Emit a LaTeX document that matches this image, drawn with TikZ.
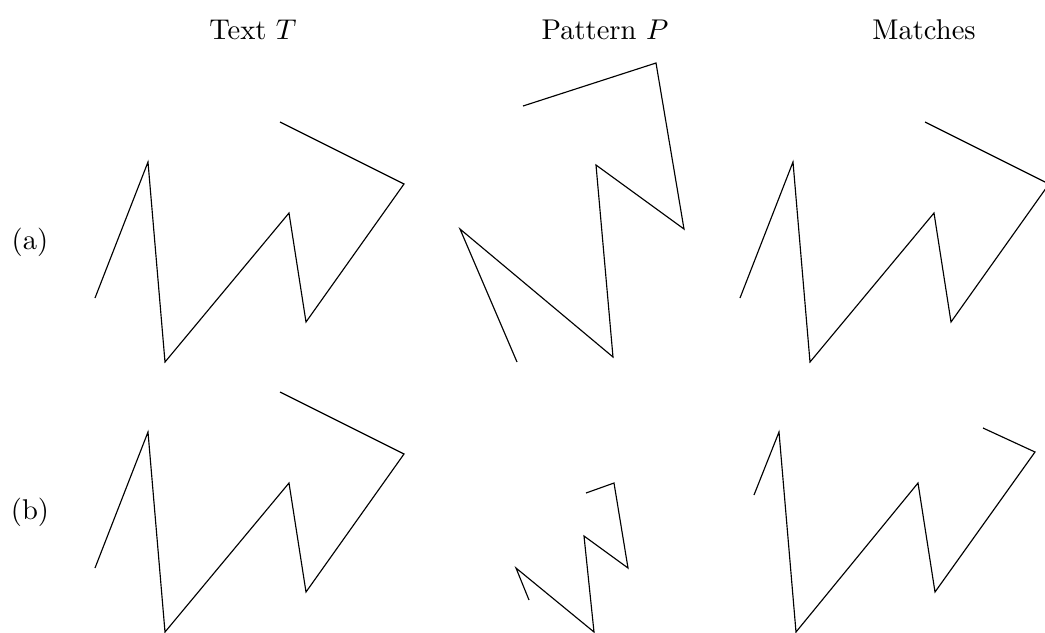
\documentclass[tikz,border=0pt]{standalone}
\begin{document}
\begin{tikzpicture}[x=0.35pt,y=-0.35pt,
  poly/.style={line width=0.4pt, line join=miter},
  lbl/.style={font=\fontsize{10}{12}\selectfont, inner sep=0pt}]
\useasboundingbox (0,0) rectangle (1045,632);
\clip (0,0) rectangle (1045,632);
% headers
\node[lbl] (hT) at (253,30) {Text $T$};
\node[lbl] (hP) at (605,30) {Pattern $P$};
\node[lbl] (hM) at (924,30) {Matches};
\node[lbl] (la) at (30,242) {(a)};
\node[lbl] (lb) at (30,512) {(b)};
% row (a)
\draw[poly] (95,298) -- (148,162) -- (165,362) -- (289,213) -- (306,322) -- (404,184) -- (280,122);
\draw[poly] (517,362) -- (460,229) -- (613,357) -- (596,165) -- (684,229) -- (656,63) -- (523,106);
\draw[poly] (740,298) -- (793,162) -- (810,362) -- (934,213) -- (951,322) -- (1049,184) -- (925,122);
% row (b)
\draw[poly] (95,568) -- (148,432) -- (165,632) -- (289,483) -- (306,592) -- (404,454) -- (280,392);
\draw[poly] (529,600) -- (516,568) -- (594,632) -- (584,536) -- (628,568) -- (614,483) -- (586,493);
\draw[poly] (754,495) -- (779,432) -- (796,632) -- (918,483) -- (935,592) -- (1035,452) -- (983,428);
\end{tikzpicture}
\end{document}
